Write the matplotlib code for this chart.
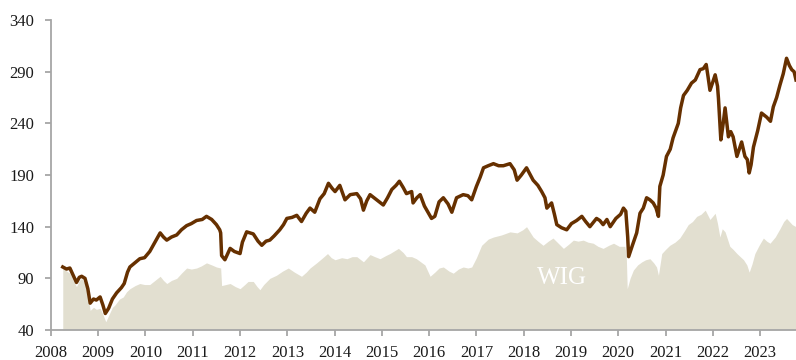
import matplotlib.pyplot as plt
plt.switch_backend('agg')

plt.rcParams['font.family'] = ['Liberation Serif', 'DejaVu Serif']

# index (brown line), decimal years vs level
idx_x = [2008.25, 2008.33, 2008.40, 2008.47, 2008.54, 2008.60, 2008.65, 2008.72, 2008.78, 2008.83,
         2008.90, 2008.96, 2009.04, 2009.10, 2009.15, 2009.22, 2009.30, 2009.39, 2009.49, 2009.55,
         2009.62, 2009.67, 2009.75, 2009.88, 2009.98, 2010.09, 2010.20, 2010.31, 2010.38, 2010.45,
         2010.55, 2010.66, 2010.76, 2010.87, 2010.97, 2011.08, 2011.20, 2011.29, 2011.40, 2011.50,
         2011.57, 2011.59, 2011.61, 2011.68, 2011.79, 2011.88, 2012.00, 2012.05, 2012.14, 2012.28,
         2012.38, 2012.46, 2012.55, 2012.63, 2012.72, 2012.84, 2012.92, 2012.99, 2013.10, 2013.20,
         2013.30, 2013.40, 2013.48, 2013.58, 2013.69, 2013.78, 2013.87, 2013.95, 2014.01, 2014.11,
         2014.22, 2014.33, 2014.47, 2014.55, 2014.61, 2014.68, 2014.75, 2014.89, 2015.03, 2015.12,
         2015.21, 2015.30, 2015.37, 2015.45, 2015.52, 2015.63, 2015.66, 2015.74, 2015.81, 2015.90,
         2015.95, 2016.05, 2016.12, 2016.21, 2016.30, 2016.40, 2016.48, 2016.58, 2016.72, 2016.82,
         2016.90, 2017.00, 2017.08, 2017.15, 2017.25, 2017.36, 2017.47, 2017.57, 2017.71, 2017.80,
         2017.86, 2017.95, 2018.06, 2018.13, 2018.20, 2018.30, 2018.38, 2018.45, 2018.49, 2018.59,
         2018.65, 2018.70, 2018.80, 2018.91, 2019.01, 2019.12, 2019.23, 2019.31, 2019.40, 2019.54,
         2019.61, 2019.68, 2019.76, 2019.83, 2019.95, 2020.05, 2020.11, 2020.16, 2020.20, 2020.22,
         2020.30, 2020.39, 2020.46, 2020.53, 2020.60, 2020.67, 2020.74, 2020.80, 2020.85, 2020.88,
         2020.95, 2021.02, 2021.10, 2021.16, 2021.27, 2021.32, 2021.38, 2021.46, 2021.55, 2021.63,
         2021.73, 2021.80, 2021.86, 2021.90, 2021.94, 2022.00, 2022.05, 2022.10, 2022.12, 2022.17,
         2022.22, 2022.26, 2022.33, 2022.38, 2022.43, 2022.51, 2022.56, 2022.61, 2022.68, 2022.73,
         2022.77, 2022.81, 2022.86, 2022.95, 2023.03, 2023.14, 2023.22, 2023.28, 2023.35, 2023.42,
         2023.49, 2023.56, 2023.62, 2023.67, 2023.72, 2023.76]
idx_v = [101, 99, 100, 93, 86, 91, 92, 90, 80, 66,
         70, 69, 72, 64, 56, 61, 70, 76, 81, 85,
         96, 101, 104, 109, 110, 116, 125, 134, 130, 127,
         130, 132, 137, 141, 143, 146, 147, 150, 147, 142,
         137, 134, 112, 108, 119, 116, 114, 125, 135, 133,
         126, 122, 126, 127, 131, 137, 142, 148, 149, 151,
         145, 153, 158, 154, 167, 172, 182, 177, 174, 180,
         166, 171, 172, 167, 156, 165, 171, 166, 161, 168,
         176, 180, 184, 178, 172, 174, 163, 168, 171, 160,
         156, 148, 150, 164, 168, 162, 154, 168, 171, 170,
         166, 179, 188, 197, 199, 201, 199, 199, 201, 195,
         185, 190, 197, 191, 185, 180, 174, 168, 158, 163,
         152, 142, 139, 137, 143, 146, 150, 145, 140, 148,
         146, 142, 147, 140, 148, 152, 158, 155, 130, 111,
         122, 134, 153, 158, 168, 166, 163, 158, 150, 179,
         190, 208, 215, 226, 240, 255, 267, 272, 279, 282,
         292, 293, 297, 285, 272, 280, 287, 276, 264, 224,
         240, 255, 227, 232, 227, 208, 215, 222, 208, 205,
         192, 200, 217, 233, 250, 246, 242, 256, 265, 277,
         288, 303, 296, 292, 290, 282]

# WIG (shaded area)
wig_x = [2008.25, 2008.33, 2008.40, 2008.47, 2008.54, 2008.60, 2008.65, 2008.72, 2008.75, 2008.83,
         2008.90, 2008.96, 2009.04, 2009.10, 2009.16, 2009.22, 2009.30, 2009.35, 2009.45, 2009.53,
         2009.60, 2009.67, 2009.78, 2009.88, 2009.98, 2010.09, 2010.20, 2010.31, 2010.38, 2010.45,
         2010.55, 2010.66, 2010.76, 2010.87, 2010.97, 2011.08, 2011.18, 2011.29, 2011.40, 2011.50,
         2011.59, 2011.61, 2011.70, 2011.79, 2011.90, 2012.00, 2012.10, 2012.17, 2012.28, 2012.36,
         2012.42, 2012.50, 2012.63, 2012.77, 2012.90, 2013.02, 2013.15, 2013.30, 2013.40, 2013.48,
         2013.62, 2013.75, 2013.85, 2013.93, 2014.01, 2014.15, 2014.26, 2014.37, 2014.47, 2014.61,
         2014.75, 2014.85, 2014.96, 2015.08, 2015.17, 2015.35, 2015.45, 2015.52, 2015.63, 2015.73,
         2015.85, 2015.91, 2016.02, 2016.12, 2016.21, 2016.30, 2016.42, 2016.51, 2016.62, 2016.72,
         2016.82, 2016.90, 2017.00, 2017.11, 2017.25, 2017.36, 2017.53, 2017.71, 2017.86, 2017.98,
         2018.06, 2018.13, 2018.20, 2018.30, 2018.41, 2018.52, 2018.62, 2018.73, 2018.84, 2018.95,
         2019.05, 2019.15, 2019.26, 2019.36, 2019.47, 2019.57, 2019.68, 2019.80, 2019.90, 2020.02,
         2020.14, 2020.17, 2020.19, 2020.25, 2020.32, 2020.41, 2020.50, 2020.58, 2020.67, 2020.75,
         2020.81, 2020.85, 2020.92, 2021.00, 2021.09, 2021.20, 2021.30, 2021.40, 2021.48, 2021.57,
         2021.66, 2021.75, 2021.84, 2021.94, 2022.05, 2022.10, 2022.15, 2022.20, 2022.26, 2022.36,
         2022.43, 2022.51, 2022.58, 2022.65, 2022.72, 2022.77, 2022.83, 2022.89, 2022.98, 2023.07,
         2023.14, 2023.21, 2023.32, 2023.42, 2023.50, 2023.56, 2023.62, 2023.68, 2023.76]
wig_v = [101, 97, 95, 88, 82, 88, 90, 85, 82, 59,
         62, 60, 61, 55, 48, 54, 62, 64, 70, 72,
         77, 80, 83, 85, 84, 84, 88, 92, 88, 85,
         88, 90, 95, 100, 99, 100, 102, 105, 103, 101,
         100, 83, 84, 85, 82, 80, 84, 87, 87, 82,
         79, 84, 90, 93, 97, 100, 96, 92, 96, 100,
         105, 110, 114, 110, 108, 110, 109, 111, 111, 106,
         113, 111, 109, 112, 114, 119, 115, 111, 111, 109,
         105, 103, 92, 96, 100, 101, 97, 95, 99, 101,
         100, 101, 110, 122, 128, 130, 132, 135, 134, 137,
         140, 135, 130, 126, 122, 126, 129, 124, 119, 123,
         127, 126, 127, 125, 124, 121, 119, 122, 124, 121,
         121, 112, 80, 90, 98, 103, 106, 108, 109, 105,
         101, 93, 114, 118, 122, 125, 129, 136, 142, 145,
         150, 152, 156, 147, 153, 143, 130, 138, 135, 121,
         118, 114, 111, 108, 103, 96, 104, 114, 122, 129,
         126, 124, 130, 138, 145, 148, 145, 142, 140]

years = list(range(2008, 2024))
y_ticks = [40, 90, 140, 190, 240, 290, 340]

fig = plt.figure(figsize=(7.96, 3.6), dpi=100)
ax = fig.add_axes([0.064, 0.0833, 0.936, 0.861])

ax.fill_between(wig_x, 40, wig_v, color='#e2dfd0', linewidth=0, zorder=1)
ax.plot(idx_x, idx_v, color='#663000', linewidth=2.5, solid_joinstyle='round', zorder=3)
ax.text(2018.81, 90, 'WIG', color='white', fontsize=18, ha='center', va='center', zorder=2)

ax.set_xlim(2008, 2023.76)
ax.set_ylim(40, 340)
ax.set_xticks(years)
ax.set_xticklabels([str(y) for y in years])
ax.set_yticks(y_ticks)

for side in ['top', 'right']:
    ax.spines[side].set_visible(False)
for side in ['left', 'bottom']:
    ax.spines[side].set_color('#a6a6a6')
    ax.spines[side].set_linewidth(1.3)
ax.tick_params(axis='both', direction='out', length=4, width=1.3, color='#a6a6a6',
               labelsize=12, labelcolor='#1a1a1a')
ax.tick_params(axis='x', pad=7)
ax.tick_params(axis='y', pad=8)

plt.savefig('out.png', dpi=100)
